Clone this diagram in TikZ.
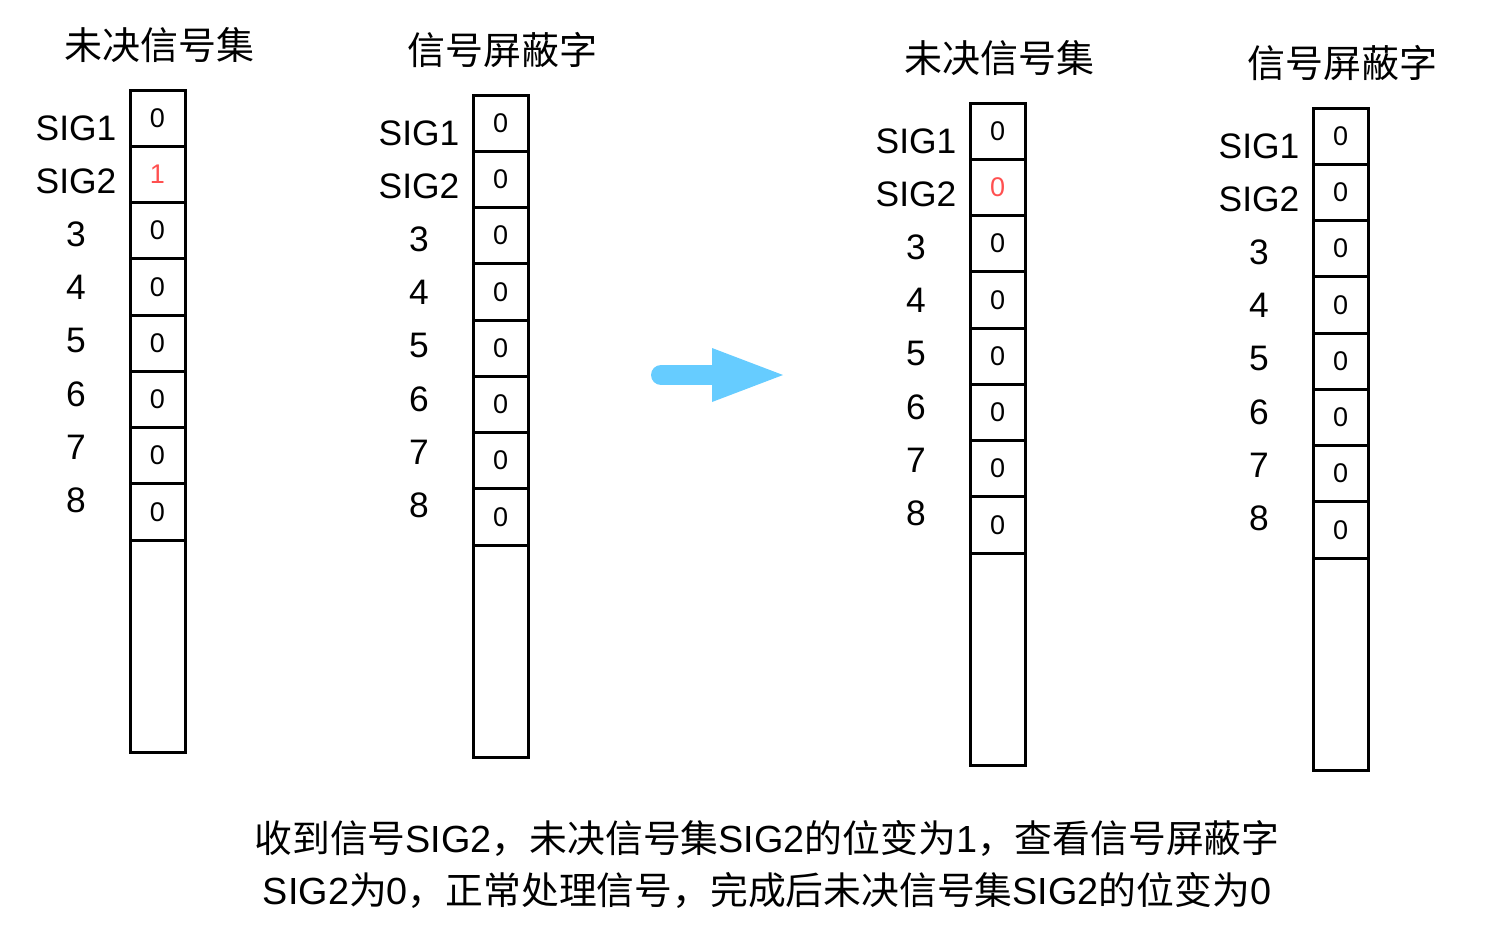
\documentclass[tikz,border=0pt]{standalone}
\usepackage{fontspec}
\setmainfont{Liberation Sans}
\newfontfamily\cjk{Noto Sans CJK SC}
\definecolor{arrowblue}{HTML}{66CCFF}
\definecolor{bitred}{HTML}{FF5050}
\newcommand\sigcol[6]{%
  \node[coltitle] (t#1) at ({#2+29},{#3-45}) {\cjk #4};
  \foreach \i in {1,...,8}{%
    \ifnum\i=2
      \node[cell] (c#1-\i) at ({#2+27.5},{#3+28.125+56.25*(\i-1)}) {\textcolor{#6}{#5}};
    \else
      \node[cell] (c#1-\i) at ({#2+27.5},{#3+28.125+56.25*(\i-1)}) {0};
    \fi
  }%
  \node[emptycell] (e#1) at ({#2+27.5},{#3+450+106}) {};
  \foreach \l [count=\j] in {SIG1,SIG2,3,4,5,6,7,8}{%
    \node[siglabel] (l#1-\j) at ({#2-54},{#3+38+53.2*(\j-1)}) {\l};
  }%
}
\begin{document}
\begin{tikzpicture}[x=0.5pt,y=-0.5pt,
  cell/.style={draw=black,line width=1.5pt,minimum width=27.5pt,minimum height=28.125pt,inner sep=0pt,font=\fontsize{13.5}{15}\selectfont},
  emptycell/.style={draw=black,line width=1.5pt,minimum width=27.5pt,minimum height=106pt,inner sep=0pt},
  coltitle/.style={inner sep=0pt,font=\fontsize{19}{22}\selectfont},
  siglabel/.style={inner sep=0pt,font=\fontsize{17.7}{21}\selectfont},
  note/.style={inner sep=0pt,align=center,font=\fontsize{18.9}{26}\selectfont}]
\useasboundingbox (0,0) rectangle (1486,948);
\sigcol{a}{130}{90}{未决信号集}{1}{bitred}
\sigcol{b}{473}{95}{信号屏蔽字}{0}{black}
\sigcol{c}{970}{103}{未决信号集}{0}{bitred}
\sigcol{d}{1313}{108}{信号屏蔽字}{0}{black}
% arrow
\coordinate (as) at (661,375);
\coordinate (ah) at (712,375);
\coordinate (at) at (783,375);
\draw[arrowblue,line width=10pt,line cap=round] (as) -- ([xshift=2]ah);
\fill[arrowblue] (712,348) -- (at) -- (712,402) -- cycle;
\node[note] (n) at (767,864) {{\cjk 收到信号}SIG2{\cjk ，未决信号集}SIG2{\cjk 的位变为}1{\cjk ，查看信号屏蔽字}\\SIG2{\cjk 为}0{\cjk ，正常处理信号，完成后未决信号集}SIG2{\cjk 的位变为}0};
\end{tikzpicture}
\end{document}
